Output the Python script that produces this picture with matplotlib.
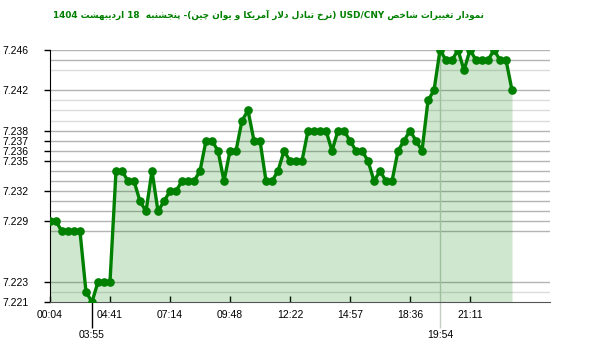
import matplotlib
matplotlib.use("Agg")
import matplotlib.pyplot as plt

# USD/CNY values, one point per reading
values = [
    7.229, 7.229, 7.228, 7.228, 7.228, 7.228, 7.222, 7.221, 7.223, 7.223,
    7.223, 7.234, 7.234, 7.233, 7.233, 7.231, 7.230, 7.234, 7.230, 7.231,
    7.232, 7.232, 7.233, 7.233, 7.233, 7.234, 7.237, 7.237, 7.236, 7.233,
    7.236, 7.236, 7.239, 7.240, 7.237, 7.237, 7.233, 7.233, 7.234, 7.236,
    7.235, 7.235, 7.235, 7.238, 7.238, 7.238, 7.238, 7.236, 7.238, 7.238,
    7.237, 7.236, 7.236, 7.235, 7.233, 7.234, 7.233, 7.233, 7.236, 7.237,
    7.238, 7.237, 7.236, 7.241, 7.242, 7.246, 7.245, 7.245, 7.246, 7.244,
    7.246, 7.245, 7.245, 7.245, 7.246, 7.245, 7.245, 7.242,
]
# x tick positions (point index) and labels
tick_idx = [0, 10, 20, 30, 40, 50, 60, 70]
tick_labels = ["00:04", "04:41", "07:14", "09:48", "12:22", "14:57", "18:36", "21:11"]
low_idx = [7, 65]
low_labels = ["03:55", "19:54"]
y_labels = [7.246, 7.242, 7.238, 7.237, 7.236, 7.235, 7.232, 7.229, 7.223, 7.221]
grid_dark = [7.246, 7.245, 7.242, 7.238, 7.237, 7.236, 7.235, 7.234, 7.233,
             7.232, 7.231, 7.230, 7.229, 7.228, 7.223]
grid_light = [7.244, 7.241, 7.240, 7.239, 7.222]

# --- minimal Persian shaping (presentation forms), visual order ---
FORMS = {
    "ا": ("\uFE8D", "\uFE8E"), "آ": ("\uFE81", "\uFE82"),
    "د": ("\uFEA9", "\uFEAA"), "ر": ("\uFEAD", "\uFEAE"),
    "ز": ("\uFEAF", "\uFEB0"), "و": ("\uFEED", "\uFEEE"),
    "ب": ("\uFE8F", "\uFE90", "\uFE91", "\uFE92"),
    "پ": ("\uFB56", "\uFB57", "\uFB58", "\uFB59"),
    "ت": ("\uFE95", "\uFE96", "\uFE97", "\uFE98"),
    "ج": ("\uFE9D", "\uFE9E", "\uFE9F", "\uFEA0"),
    "چ": ("\uFB7A", "\uFB7B", "\uFB7C", "\uFB7D"),
    "خ": ("\uFEA5", "\uFEA6", "\uFEA7", "\uFEA8"),
    "ش": ("\uFEB5", "\uFEB6", "\uFEB7", "\uFEB8"),
    "ص": ("\uFEB9", "\uFEBA", "\uFEBB", "\uFEBC"),
    "غ": ("\uFECD", "\uFECE", "\uFECF", "\uFED0"),
    "ک": ("\uFB8E", "\uFB8F", "\uFB90", "\uFB91"),
    "ل": ("\uFEDD", "\uFEDE", "\uFEDF", "\uFEE0"),
    "م": ("\uFEE1", "\uFEE2", "\uFEE3", "\uFEE4"),
    "ن": ("\uFEE5", "\uFEE6", "\uFEE7", "\uFEE8"),
    "ه": ("\uFEE9", "\uFEEA", "\uFEEB", "\uFEEC"),
    "ی": ("\uFBFC", "\uFBFD", "\uFBFE", "\uFBFF"),
}
LAM_ALEF = {"ا": ("\uFEFB", "\uFEFC"), "آ": ("\uFEF5", "\uFEF6")}


def shape(word):
    out = []
    i = 0
    while i < len(word):
        c = word[i]
        prev_joins = i > 0 and len(FORMS.get(word[i - 1], ())) == 4
        if c == "ل" and i + 1 < len(word) and word[i + 1] in LAM_ALEF:
            out.append(LAM_ALEF[word[i + 1]][1 if prev_joins else 0])
            i += 2
            continue
        f = FORMS[c]
        next_joins = len(f) == 4 and i + 1 < len(word)
        if prev_joins and next_joins:
            out.append(f[3])
        elif prev_joins:
            out.append(f[1])
        elif next_joins:
            out.append(f[2])
        else:
            out.append(f[0])
        i += 1
    return "".join(reversed(out))


title = " ".join([
    "1404", shape("اردیبهشت"), "18 ", shape("پنجشنبه"), "-(" + shape("چین"),
    shape("یوان"), shape("و"), shape("آمریکا"), shape("دلار"), shape("تبادل"),
    shape("نرخ") + ")", "USD/CNY", shape("شاخص"), shape("تغییرات"), shape("نمودار"),
])

green = "#008000"
grid_v = "#c4cfc4"
fig = plt.figure(figsize=(6.0, 3.52), dpi=100)
ax = fig.add_axes([50 / 600, 50 / 352, 500 / 600, 252 / 352])

for v in grid_dark:
    ax.axhline(v, color="#b4b4b4", lw=1.0, zorder=1)
for v in grid_light:
    ax.axhline(v, color="#dcdcdc", lw=1.0, zorder=1)
ax.axvline(low_idx[1], color=grid_v, lw=1.0, zorder=1)

x = list(range(len(values)))
ax.fill_between(x, values, 7.221, color=green, alpha=0.19, lw=0, zorder=2)
ax.plot(x, values, color=green, lw=2.4, marker="o", ms=5.2, zorder=3)

ax.set_xlim(0, 83.33)
ax.set_ylim(7.221, 7.246)

ax.set_yticks(y_labels)
ax.set_yticklabels([f"{v:.3f}" for v in y_labels])
ax.tick_params(axis="y", direction="out", length=4, width=1, pad=11.5,
               labelsize=7.5, colors="black")

ax.set_xticks(tick_idx)
ax.set_xticklabels(tick_labels)
ax.tick_params(axis="x", which="major", direction="in", length=4.5, width=1,
               pad=6, labelsize=7.5)
ax.set_xticks(low_idx, minor=True)
ax.set_xticklabels(low_labels, minor=True)
ax.tick_params(axis="x", which="minor", direction="out", length=19, width=1,
               pad=1, labelsize=7.5)
ax.xaxis.get_minor_ticks()[1].tick1line.set_markeredgecolor(grid_v)

for lab in ax.get_xticklabels(which="both") + ax.get_yticklabels():
    lab.set_fontfamily("Liberation Sans")

for s in ["top", "right"]:
    ax.spines[s].set_visible(False)
ax.spines["left"].set_color("black")
ax.spines["bottom"].set_color("#555555")

fig.text(268 / 600, 1 - 15 / 352, title, ha="center", va="center",
         fontsize=6.4, fontweight="bold", color=green, family="DejaVu Sans")

fig.savefig("out.png", dpi=100)
